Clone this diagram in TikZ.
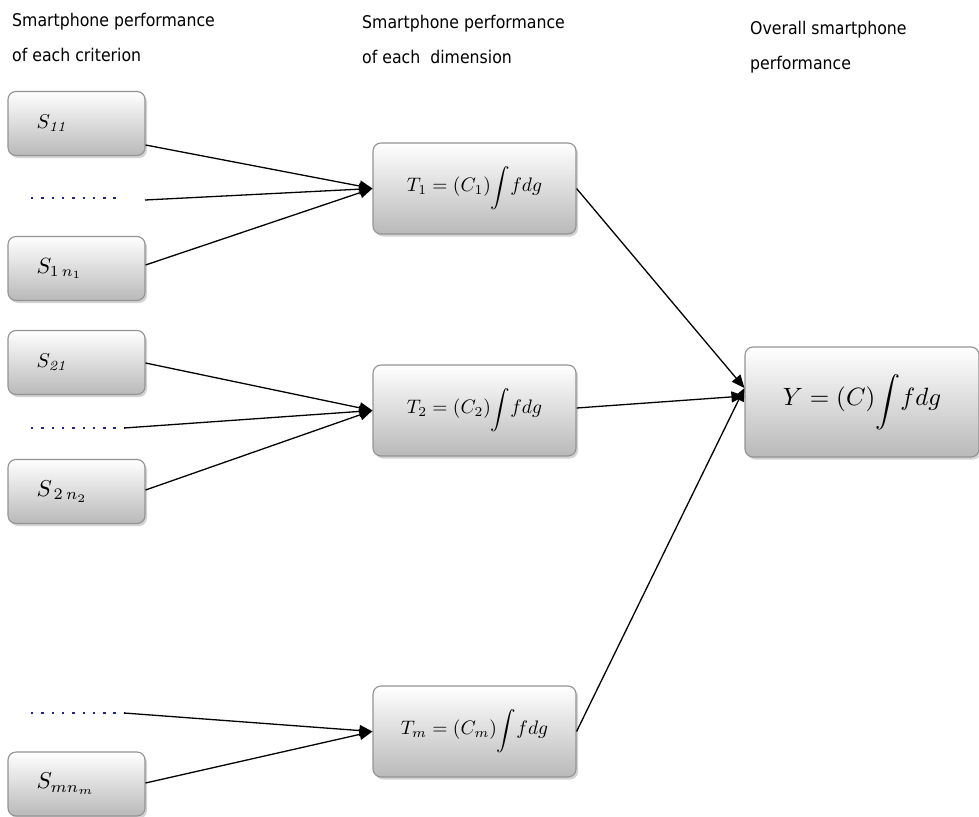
\documentclass[tikz,border=0pt]{standalone}
\usepackage{graphicx}
\usepackage{fontspec}
\newfontfamily\headfont{DejaVu Sans Condensed}
\usetikzlibrary{arrows.meta,shadows}
\newcommand{\tint}{\raisebox{-0.25ex}{$\displaystyle\int$}}
\begin{document}
\begin{tikzpicture}[x=1pt,y=-1pt,
  box/.style={draw=gray!85, line width=1.1pt, rounded corners=8pt,
    top color=white, bottom color=gray!55,
    drop shadow={opacity=0.35, shadow xshift=2pt, shadow yshift=-2.5pt},
    inner sep=0pt},
  sbox/.style={box, minimum width=137pt, minimum height=64pt, text width=80pt, inner xsep=28.5pt, align=left},
  tbox/.style={box, minimum width=203pt, minimum height=91pt},
  ybox/.style={box, minimum width=234pt, minimum height=110pt},
  conn/.style={line width=1.3pt, black},
  arr/.style={conn, -{Triangle[length=13pt,width=11pt]}},
  dotline/.style={line width=2.4pt, gray!40!blue!70!black, dash pattern=on 2.4pt off 7.9pt},
  head/.style={font=\headfont\fontsize{17.5}{35}\selectfont, anchor=north west, align=left, inner sep=0pt}]
\useasboundingbox (0,0) rectangle (979,816);
% headers
\node[head] (h1) at (12,13) {Smartphone performance\\of each criterion};
\node[head] (h2) at (362,15) {Smartphone performance\\of each\ \ dimension};
\node[head] (h3) at (750,21) {Overall smartphone\\performance};
% left boxes
\node[sbox] (s11) at (76.5,123.5) {\scalebox{2}{$S_{\mathit{11}}$}};
\node[sbox] (s1n) at (76.5,268.5) {\scalebox{2.2}{$S_{1\,{n_1}}$}};
\node[sbox] (s21) at (76.5,362.5) {\scalebox{2}{$S_{\mathit{21}}$}};
\node[sbox] (s2n) at (76.5,491.5) {\scalebox{2.3}{$S_{\,2\,n_2}$}};
\node[sbox] (smn) at (76.5,784) {\scalebox{2.3}{$S_{mn_m}$}};
% dotted placeholders
\coordinate (d1a) at (31,198); \coordinate (d1b) at (122,198);
\coordinate (d1c) at (145,200);
\coordinate (d2a) at (31,428); \coordinate (d2b) at (124,428);
\coordinate (d3a) at (31,713); \coordinate (d3b) at (124,713);
\draw[dotline] (d1a) -- (d1b);
\draw[dotline] (d2a) -- (d2b);
\draw[dotline] (d3a) -- (d3b);
% middle boxes
\node[tbox] (t1) at (474.5,188.5) {\scalebox{1.95}{$T_1=(C_1)\tint fdg$}};
\node[tbox] (t2) at (474.5,410.5) {\scalebox{1.95}{$T_2=(C_2)\tint fdg$}};
\node[tbox] (tm) at (474.5,731.5) {\scalebox{1.95}{$T_m=(C_m)\tint fdg$}};
% right box
\node[ybox] (y) at (862,402) {\scalebox{2.5}{$Y=(C)\tint fdg$}};
% connectors
\draw[arr] (s11.east |- 0,145) -- (t1.west);
\draw[arr] (d1c) -- (t1.west);
\draw[arr] (s1n.east |- 0,265) -- (t1.west);
\draw[arr] (s21.east |- 0,363) -- (t2.west);
\draw[arr] (d2b) -- (t2.west);
\draw[arr] (s2n.east |- 0,490) -- (t2.west);
\draw[arr] (d3b) -- (tm.west);
\draw[arr] (smn.east |- 0,783) -- (tm.west);
\draw[arr] (t1.east) -- ([yshift=14pt]y.west);
\draw[arr] (t2.east |- 0,408) -- ([yshift=6pt]y.west);
\draw[arr] (tm.east) -- ([yshift=14pt]y.west);
\end{tikzpicture}
\end{document}
